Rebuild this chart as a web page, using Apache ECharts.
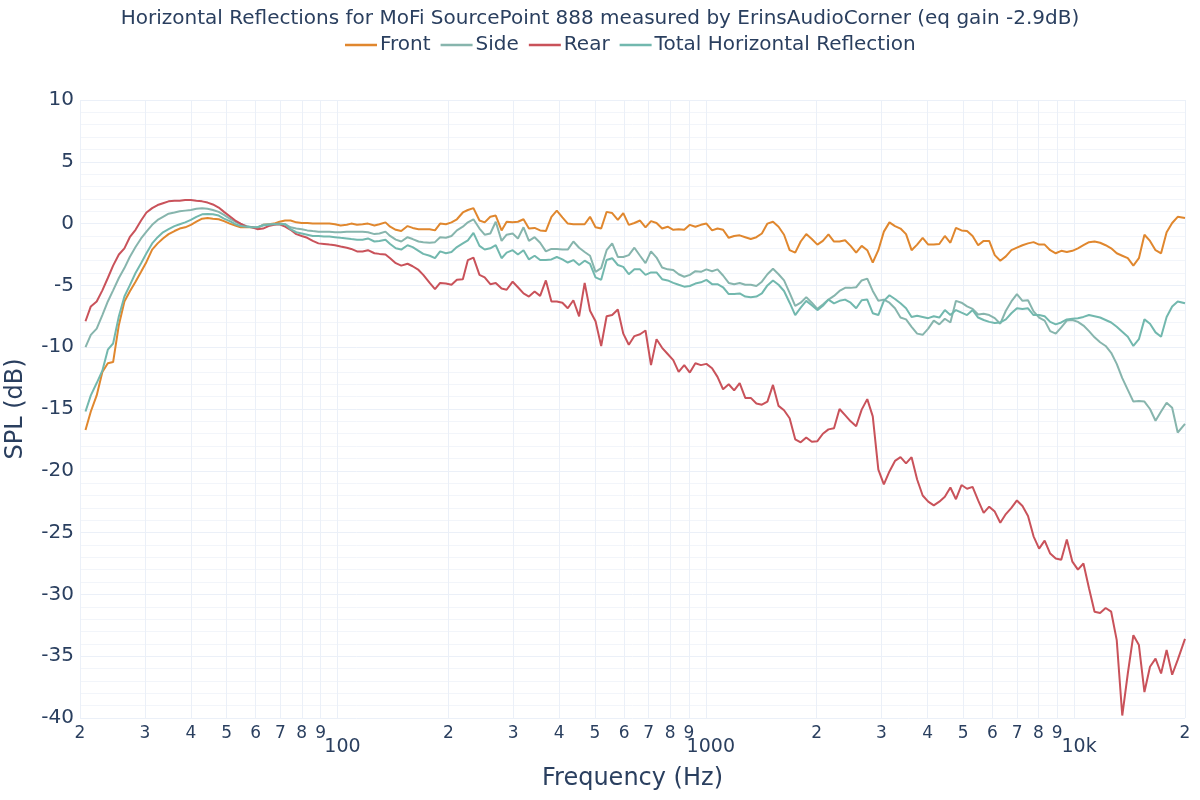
<!DOCTYPE html>
<html>
<head>
<meta charset="utf-8">
<script src="https://cdn.jsdelivr.net/npm/echarts@6/dist/echarts.min.js"></script>
<style>html,body{margin:0;padding:0;background:#fff}#c{width:1200px;height:800px}</style>
</head>
<body>
<div id="c"></div>
<script>
const freqs = [20.7,21.4,22.2,23.0,23.8,24.6,25.5,26.4,27.3,28.3,29.3,30.3,31.4,32.5,33.6,34.8,36.1,37.3,38.6,
40,41.4,42.9,44.4,45.9,47.6,49.2,51.0,52.8,54.6,56.6,58.6,60.6,62.8,65.0,67.3,69.6,72.1,74.6,77.3,
80,82.8,85.7,88.8,91.9,95.1,98.5,102,106,109,113,117,121,126,130,135,139,144,149,155,
160,166,171,178,184,190,197,204,211,219,226,234,243,251,260,269,279,288,299,309,
320,331,343,355,368,381,394,408,422,437,453,469,485,502,520,538,557,577,597,618,
640,663,686,710,735,761,788,816,844,874,905,937,970,1004,1040,1076,1114,1154,1194,1236,
1280,1325,1372,1420,1470,1522,1576,1631,1689,1749,1810,1874,1940,2009,2079,2153,2229,2307,2389,2473,
2560,2650,2744,2840,2941,3044,3152,3263,3378,3497,3620,3748,3880,4017,4159,4305,4457,4614,4777,4946,
5120,5301,5488,5681,5881,6089,6303,6526,6756,6994,7241,7496,7760,8034,8317,8611,8914,9228,9554,9891,
10240,10601,10975,11362,11763,12178,12607,13052,13512,13988,14482,14993,15521,16069,16635,17222,17829,18458,19109,20000];

const front = [-16.7,-15.2,-13.9,-12.0,-11.3,-11.2,-8.2,-6.3,-5.5,-4.7,-3.9,-3.1,-2.1,-1.6,-1.2,-0.85,-0.6,-0.4,-0.3,-0.1,0.15,0.4,0.45,0.4,0.35,0.2,0,-0.15,-0.3,-0.3,-0.3,-0.35,
-0.1,-0.05,0,0.15,0.25,0.25,0.1,0.05,0.05,0,0,0,0,-0.05,-0.15,-0.1,0,-0.1,-0.05,0,-0.15,-0.05,0.1,-0.25,-0.5,-0.6,-0.2,-0.35,-0.45,-0.45,-0.45,-0.55,0,
-0.05,0.1,0.35,0.9,1.1,1.25,0.25,0.1,0.55,0.65,-0.55,0.15,0.1,0.15,0.35,-0.4,-0.35,-0.55,-0.6,0.55,1.05,0.5,0,-0.05,-0.05,-0.05,0.55,-0.3,-0.4,0.95,0.85,0.3,0.85,-0.1,
0.05,0.25,-0.3,0.2,0.05,-0.4,-0.25,-0.5,-0.45,-0.5,-0.1,-0.25,-0.1,0,-0.55,-0.4,-0.5,-1.15,-1.0,-0.95,-1.1,-1.25,-1.1,-0.8,0,0.15,-0.25,-0.9,-2.15,-2.35,-1.45,-0.85,-1.25,-1.7,-1.4,
-0.87,-1.45,-1.45,-1.35,-1.8,-2.35,-1.8,-2.15,-3.15,-2.15,-0.65,0.1,-0.2,-0.4,-0.85,-2.15,-1.7,-1.15,-1.7,-1.7,-1.65,-1.0,-1.55,-0.35,-0.55,-0.6,-1.0,-1.75,-1.4,-1.4,-2.55,-3.0,
-2.65,-2.15,-1.95,-1.75,-1.6,-1.5,-1.7,-1.7,-2.15,-2.4,-2.2,-2.3,-2.2,-2.0,-1.75,-1.5,-1.45,-1.55,-1.75,-2.0,-2.4,-2.6,-2.8,-3.4,-2.8,-0.9,-1.4,-2.15,-2.4,-0.7,0.05,0.55,0.45];

const side = [-10.0,-9.0,-8.5,-7.4,-6.3,-5.4,-4.4,-3.6,-2.7,-1.9,-1.2,-0.65,-0.1,0.3,0.55,0.8,0.9,1.0,1.05,1.1,1.2,1.25,1.2,1.1,0.95,0.7,0.4,0.15,-0.05,-0.2,-0.3,-0.3,
-0.1,-0.05,-0.05,0,-0.05,-0.3,-0.4,-0.45,-0.55,-0.6,-0.65,-0.65,-0.65,-0.7,-0.7,-0.65,-0.65,-0.65,-0.65,-0.7,-0.85,-0.8,-0.65,-1.0,-1.3,-1.45,-1.1,-1.25,-1.45,-1.5,-1.55,-1.5,-1.1,
-1.15,-1.0,-0.55,-0.25,0.1,0.35,-0.4,-0.9,-0.8,0.15,-1.4,-0.9,-0.8,-1.2,-0.3,-1.4,-1.1,-1.55,-2.25,-2.05,-2.05,-2.1,-2.1,-1.45,-1.95,-2.3,-2.6,-3.9,-3.6,-2.15,-1.6,-2.7,-2.7,-2.55,
-1.95,-2.6,-3.2,-2.25,-2.75,-3.55,-3.7,-3.75,-4.1,-4.3,-4.15,-3.85,-3.9,-3.7,-3.85,-3.7,-4.2,-4.8,-4.9,-4.8,-4.95,-4.95,-5.05,-4.7,-4.1,-3.65,-4.1,-4.6,-5.6,-6.65,-6.4,-5.95,-6.4,-6.9,-6.55,
-6.15,-5.85,-5.45,-5.2,-5.2,-5.15,-4.6,-4.45,-5.45,-6.25,-6.15,-6.4,-6.85,-7.6,-7.75,-8.35,-8.9,-9.0,-8.5,-7.85,-8.15,-7.7,-8.0,-6.25,-6.4,-6.7,-6.9,-7.35,-7.3,-7.4,-7.65,-8.1,
-7.05,-6.3,-5.7,-6.25,-6.2,-7.1,-7.6,-7.85,-8.7,-8.9,-8.4,-7.85,-7.8,-7.95,-8.25,-8.7,-9.2,-9.6,-9.9,-10.45,-11.35,-12.5,-13.45,-14.4,-14.35,-14.4,-15.0,-15.95,-15.2,-14.5,-14.9,-16.9,-16.2];

const rear = [-7.9,-6.7,-6.3,-5.4,-4.4,-3.4,-2.5,-2.0,-1.1,-0.5,0.25,0.9,1.25,1.5,1.65,1.8,1.85,1.85,1.9,1.9,1.85,1.8,1.7,1.55,1.3,0.95,0.6,0.25,0,-0.25,-0.3,-0.45,
-0.4,-0.2,-0.1,-0.05,-0.25,-0.5,-0.85,-1.0,-1.15,-1.4,-1.6,-1.65,-1.7,-1.75,-1.85,-1.95,-2.05,-2.25,-2.25,-2.15,-2.4,-2.45,-2.5,-2.8,-3.2,-3.4,-3.25,-3.45,-3.75,-4.15,-4.8,-5.3,-4.8,
-4.85,-4.95,-4.55,-4.5,-2.95,-2.75,-4.15,-4.35,-4.9,-4.8,-5.25,-5.35,-4.7,-5.15,-5.65,-5.9,-5.5,-5.85,-4.6,-6.3,-6.3,-6.4,-6.85,-6.2,-7.5,-4.8,-7.05,-7.9,-9.9,-7.5,-7.4,-6.95,-8.9,-9.8,
-9.1,-8.95,-8.65,-11.45,-9.35,-10.05,-10.55,-11.05,-12.0,-11.45,-12.05,-11.3,-11.45,-11.35,-11.7,-12.4,-13.4,-13.0,-13.5,-12.9,-14.1,-14.1,-14.55,-14.65,-14.4,-13.05,-14.75,-15.1,-15.75,-17.45,-17.7,-17.3,-17.65,-17.6,-17.0,
-16.65,-16.55,-15.0,-15.5,-16.0,-16.4,-15.05,-14.2,-15.6,-19.9,-21.1,-20.05,-19.2,-18.9,-19.4,-18.9,-20.7,-22.0,-22.5,-22.8,-22.5,-22.1,-21.35,-22.3,-21.15,-21.45,-21.3,-22.4,-23.4,-22.9,-23.3,-24.2,
-23.5,-23.0,-22.4,-22.85,-23.65,-25.3,-26.3,-25.65,-26.7,-27.1,-27.2,-25.55,-27.35,-28.0,-27.5,-29.5,-31.4,-31.5,-31.1,-31.4,-33.7,-39.8,-36.4,-33.3,-34.1,-37.9,-35.85,-35.2,-36.4,-34.5,-36.5,-35.3,-33.6];

const total = [-15.2,-13.9,-12.9,-11.9,-10.2,-9.7,-7.5,-5.9,-5.0,-4.0,-3.2,-2.4,-1.6,-1.1,-0.7,-0.45,-0.2,-0.05,0.1,0.3,0.55,0.75,0.78,0.75,0.65,0.4,0.2,-0.05,-0.2,-0.25,-0.3,-0.3,
-0.15,-0.1,-0.05,-0.05,-0.05,-0.45,-0.7,-0.8,-0.9,-1.0,-1.0,-1.05,-1.05,-1.1,-1.15,-1.2,-1.25,-1.3,-1.3,-1.2,-1.45,-1.4,-1.3,-1.65,-2.0,-2.1,-1.75,-1.9,-2.2,-2.45,-2.6,-2.8,-2.25,
-2.4,-2.3,-1.9,-1.6,-1.35,-0.75,-1.8,-2.1,-2.0,-1.75,-2.8,-2.35,-2.15,-2.5,-2.15,-2.9,-2.6,-2.95,-2.95,-2.9,-2.7,-2.9,-3.15,-2.95,-3.35,-3.0,-3.25,-4.35,-4.55,-2.95,-2.8,-3.35,-3.5,-4.1,
-3.7,-3.7,-4.15,-3.95,-3.95,-4.5,-4.6,-4.8,-4.95,-5.1,-5.05,-4.85,-4.75,-4.55,-4.9,-4.9,-5.15,-5.7,-5.7,-5.65,-5.9,-5.95,-5.9,-5.65,-5.0,-4.6,-4.95,-5.45,-6.4,-7.4,-6.8,-6.25,-6.6,-7.0,-6.65,
-6.15,-6.45,-6.25,-6.15,-6.4,-6.85,-6.2,-6.15,-7.25,-7.4,-6.25,-5.8,-6.1,-6.45,-6.85,-7.55,-7.45,-7.55,-7.65,-7.5,-7.6,-7.0,-7.4,-7.0,-7.2,-7.4,-7.0,-7.6,-7.8,-7.95,-8.05,-8.0,
-7.75,-7.25,-6.85,-6.9,-6.85,-7.4,-7.4,-7.5,-7.95,-8.15,-8.0,-7.75,-7.7,-7.65,-7.55,-7.4,-7.5,-7.6,-7.8,-8.0,-8.35,-8.75,-9.15,-9.9,-9.35,-7.75,-8.1,-8.8,-9.15,-7.55,-6.7,-6.3,-6.45];

const xTicks = [20,30,40,50,60,70,80,90,100,200,300,400,500,600,700,800,900,1000,2000,3000,4000,5000,6000,7000,8000,9000,10000,20000];
const xDecadeLabels = {100:'100',1000:'1000',10000:'10k'};

const seriesNames = ['Front','Side','Rear','Total Horizontal Reflection'];
const seriesValues = [front, side, rear, total];
const seriesColors = ['#e0872e','#87b5ad','#c9525a','#72b8ae'];

const FONT = '"DejaVu Sans", Verdana, sans-serif';
const TXT = '#2a3f5f';

function pairs(vals){ return freqs.map((f,i)=>[f, vals[i]]); }

const chart = echarts.init(document.getElementById('c'), null, {renderer:'canvas'});
chart.setOption({
  animation:false,
  backgroundColor:'#ffffff',
  textStyle:{fontFamily:FONT,color:TXT},
  title:{
    text:'Horizontal Reflections for MoFi SourcePoint 888 measured by ErinsAudioCorner (eq gain -2.9dB)',
    left:'center', top:4,
    textStyle:{fontFamily:FONT,fontSize:20,fontWeight:'normal',color:TXT}
  },
  legend:{
    data:seriesNames, top:35, left:345, itemGap:10, itemWidth:32, itemHeight:2.5, padding:0,
    icon:'rect',
    textStyle:{fontFamily:FONT,fontSize:20,color:TXT,padding:[0,0,0,-2]}
  },
  grid:{left:80,right:15,top:100,bottom:82,containLabel:false,outerBoundsMode:'none'},
  xAxis:{
    type:'log', logBase:10, min:20, max:20000,
    name:'Frequency (Hz)', nameLocation:'middle', nameGap:49,
    nameTextStyle:{fontFamily:FONT,fontSize:24,color:TXT},
    axisLine:{show:false},
    axisTick:{show:false, customValues:xTicks},
    axisLabel:{
      customValues:xTicks, margin:7, color:TXT, fontFamily:FONT, fontSize:17,
      formatter:function(v){
        const r = Math.round(v);
        if (xDecadeLabels[r]) return '{big|' + xDecadeLabels[r] + '}';
        return String(Math.round(r / Math.pow(10, Math.floor(Math.log10(r) + 1e-9))));
      },
      rich:{big:{fontSize:19,fontFamily:FONT,color:TXT,padding:[13,0,0,10]}}
    },
    splitLine:{show:true,lineStyle:{color:'#ebf0f8',width:1}}
  },
  yAxis:{
    type:'value', min:-40, max:10, interval:5,
    name:'SPL (dB)', nameLocation:'middle', nameGap:52,
    nameTextStyle:{fontFamily:FONT,fontSize:24,color:TXT},
    axisLine:{show:false}, axisTick:{show:false},
    axisLabel:{margin:6,color:TXT,fontFamily:FONT,fontSize:20},
    splitLine:{show:true,lineStyle:{color:'#ebf0f8',width:1}},
    minorTick:{show:false,splitNumber:5},
    minorSplitLine:{show:true,lineStyle:{color:'#f2f5fa',width:1}}
  },
  series: seriesNames.map((n,k)=>({
    name:n, type:'line', data:pairs(seriesValues[k]), showSymbol:false, symbol:'none',
    lineStyle:{width:2,color:seriesColors[k]}, itemStyle:{color:seriesColors[k]},
    emphasis:{disabled:true}
  }))
});
</script>
</body>
</html>
